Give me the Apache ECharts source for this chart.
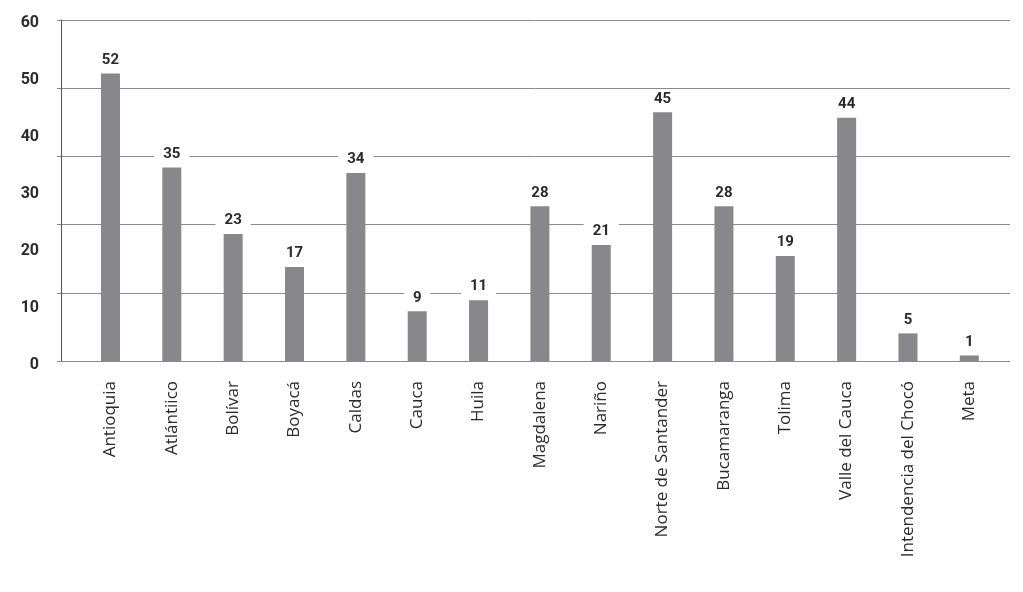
<!DOCTYPE html>
<html>
<head>
<meta charset="utf-8">
<script src="https://cdn.jsdelivr.net/npm/echarts@6/dist/echarts.min.js"></script>
<style>
  html, body { margin: 0; padding: 0; background: #fff; }
  #chart { width: 1023px; height: 592px; }
</style>
</head>
<body>
<div id="chart"></div>
<script>
// departamentos
var categories = [
  "Antioquia", "Atlántiico", "Bolívar", "Boyacá", "Caldas", "Cauca", "Huila",
  "Magdalena", "Nariño", "Norte de Santander", "Bucamaranga", "Tolima",
  "Valle del Cauca", "Intendencia del Chocó", "Meta"
];
var values = [52, 35, 23, 17, 34, 9, 11, 28, 21, 45, 28, 19, 44, 5, 1];

// eje de valores (etiquetas 0..60)
var yTickMin = 0;
var yTickMax = 60;
var yTickStep = 10;

var myChart = echarts.init(document.getElementById("chart"));

// no hay fuente condensada instalada, Roboto es la mas estrecha
var numFont = "Roboto, sans-serif";

var option = {
  animation: false,
  grid: [
    // lineas de la cuadricula
    { left: 61, right: 13, top: 20, bottom: 231 },
    // barras
    { left: 79.8, right: 23, top: 20, bottom: 231 },
    // etiquetas del eje y
    { left: 61, right: 13, top: 23, bottom: 227 }
  ],
  xAxis: [
    { gridIndex: 0, type: "value", show: false },
    {
      gridIndex: 1,
      type: "category",
      data: categories,
      axisLine: { show: false },
      axisTick: { show: false },
      axisLabel: {
        rotate: 90,
        margin: 20,
        interval: 0,
        color: "#2b2b2b",
        fontSize: 17,
        fontFamily: "'Open Sans', sans-serif"
      }
    },
    { gridIndex: 2, type: "value", show: false }
  ],
  yAxis: [
    {
      gridIndex: 0,
      type: "value",
      min: 0,
      max: 5,
      interval: 1,
      axisLine: { show: true, lineStyle: { color: "#555", width: 1 } },
      axisTick: { show: true, length: 4, lineStyle: { color: "#8a8a8a" } },
      axisLabel: { show: false },
      splitLine: { show: true, lineStyle: { color: "#8a8a8a", width: 1 } }
    },
    {
      gridIndex: 1,
      type: "value",
      min: 0,
      max: 61.7,
      show: false
    },
    {
      gridIndex: 2,
      type: "value",
      min: yTickMin,
      max: yTickMax,
      interval: yTickStep,
      axisLine: { show: false },
      axisTick: { show: false },
      splitLine: { show: false },
      axisLabel: {
        margin: 22,
        color: "#2b2b2b",
        fontSize: 16,
        fontWeight: "bold",
        fontFamily: numFont
      }
    }
  ],
  series: [
    {
      type: "bar",
      xAxisIndex: 1,
      yAxisIndex: 1,
      data: values,
      barWidth: 19,
      itemStyle: { color: "#88888c" },
      label: {
        show: true,
        position: "top",
        distance: 5,
        color: "#2b2b2b",
        fontSize: 15,
        fontWeight: "bold",
        fontFamily: numFont,
        backgroundColor: "#fff",
        padding: [1, 9]
      }
    }
  ]
};

myChart.setOption(option);
</script>
</body>
</html>
